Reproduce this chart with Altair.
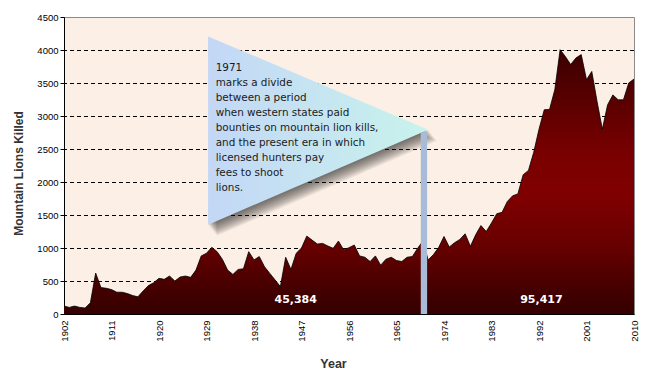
import altair as alt
import pandas as pd

# ---------------- data ----------------
YEARS = list(range(1902, 2011))
KILLS = [
    120, 100, 120, 100, 90, 170, 620, 400, 390,                 # 1902-1910
    370, 330, 330, 310, 280, 260, 350, 430, 475, 540,           # 1911-1920
    525, 575, 500, 560, 575, 555, 665, 880, 920, 1010,          # 1921-1930
    945, 830, 665, 600, 675, 685, 945, 820, 870, 715,           # 1931-1940
    615, 515, 415, 860, 675, 920, 1000, 1180, 1120, 1060,       # 1941-1950
    1070, 1030, 995, 1105, 970, 1005, 1045, 880, 860, 795,      # 1951-1960
    880, 740, 830, 860, 810, 795, 860, 870, 995, 1105,          # 1961-1970
    820, 900, 1010, 1175, 1015, 1080, 1130, 1215, 1025, 1200,   # 1971-1980
    1340, 1250, 1380, 1520, 1540, 1705, 1790, 1820, 2110, 2175, # 1981-1990
    2450, 2800, 3095, 3100, 3400, 4005, 3900, 3780, 3880, 3930, # 1991-2000
    3550, 3675, 3220, 2800, 3170, 3320, 3245, 3245, 3500, 3560, # 2001-2010
]
TICK_YEARS = list(range(1902, 2011, 9))
Y_TICKS = list(range(0, 4501, 500))
GRID_VALUES = list(range(500, 4001, 500))

NOTE_LINES = [
    "1971",
    "marks a divide",
    "between a period",
    "when western states paid",
    "bounties on mountain lion kills,",
    "and the present era in which",
    "licensed hunters pay",
    "fees to shoot",
    "lions.",
]
NOTE_X = [1930.74]
NOTE_Y = [3797]

TRI_X = [1929.3, 1971.0]
TRI_TOP = [4206, 2792]
TRI_BOTTOM = [1353, 2792]

BAR_X = [1969.6]
BAR_X2 = [1970.8]
BAR_TOP = [2753]

TOTAL_LABELS = ["45,384", "95,417"]
TOTAL_X = [1945.9, 1992.45]
TOTAL_Y = [217, 217]

# ---------------- frames ----------------
W, H = 570, 297
YR_PER_PX = (2010 - 1902) / W
VAL_PER_PX = 4500 / H

df = pd.DataFrame({"year": YEARS, "kills": KILLS})
grid_df = pd.DataFrame({"kills": GRID_VALUES})
tri_df = pd.DataFrame({"year": TRI_X, "kills": TRI_TOP, "bot": TRI_BOTTOM})
bar_df = pd.DataFrame({"year": BAR_X, "x2": BAR_X2, "kills": [0], "y2": BAR_TOP})
tot_df = pd.DataFrame({"label": TOTAL_LABELS, "year": TOTAL_X, "kills": TOTAL_Y})
note_df = pd.DataFrame({"year": NOTE_X, "kills": NOTE_Y, "t": ["\n".join(NOTE_LINES)]})

x_scale = alt.Scale(domain=[1902, 2010], nice=False, zero=False)
y_scale = alt.Scale(domain=[0, 4500], nice=False)

x_axis = alt.Axis(
    values=TICK_YEARS, format="d", title="Year", labelAngle=270,
    labelFlush=False, labelOverlap=False, grid=False, ticks=False,
    domainColor="black", labelPadding=6,
    labelFont="Liberation Sans", labelFontSize=9.5, labelColor="black",
    titleFont="Liberation Sans", titleFontSize=12.5, titleFontWeight="bold",
    titleColor="#333333", titleX=269, titleY=43, titleBaseline="top",
)
y_axis = alt.Axis(
    values=Y_TICKS, format="d", title="Mountain Lions Killed", grid=False,
    domainColor="black", tickColor="black", tickSize=4, labelPadding=2,
    labelFont="Liberation Sans", labelFontSize=9.5, labelColor="black",
    titleFont="Liberation Sans", titleFontSize=12, titleFontWeight="bold",
    titleColor="#333333", titleX=-46, titleY=156, titleBaseline="middle",
)

X = alt.X("year:Q", scale=x_scale, axis=x_axis)
Y = alt.Y("kills:Q", scale=y_scale, axis=y_axis)

area = alt.Chart(df).mark_area(
    color=alt.Gradient(
        gradient="linear", x1=0, x2=0, y1=0, y2=1,
        stops=[
            alt.GradientStop(offset=0, color="#3a0000"),
            alt.GradientStop(offset=0.22, color="#5e0000"),
            alt.GradientStop(offset=0.4, color="#7a0000"),
            alt.GradientStop(offset=0.55, color="#800000"),
            alt.GradientStop(offset=0.75, color="#660000"),
            alt.GradientStop(offset=0.92, color="#420000"),
            alt.GradientStop(offset=1, color="#350000"),
        ],
    ),
    line=alt.OverlayMarkDef(color="black", strokeWidth=0.8),
    opacity=1,
).encode(x=X, y=Y)

grid = alt.Chart(grid_df).mark_rule(
    color="black", strokeDash=[4, 3], strokeWidth=1, yOffset=0.5
).encode(y=Y)

# soft drop shadow for the call-out: many faint copies stepped down-right
shadows = []
for step in range(1, 12):
    dx, dy = 0.8 * step, 1.0 * step
    sdf = tri_df.assign(
        year=tri_df["year"] + dx * YR_PER_PX,
        kills=tri_df["kills"] - dy * VAL_PER_PX,
        bot=tri_df["bot"] - dy * VAL_PER_PX,
    )
    shadows.append(
        alt.Chart(sdf).mark_area(color="#202020", opacity=0.075).encode(
            x=X, y=Y, y2="bot:Q",
        )
    )

tri = alt.Chart(tri_df).mark_area(
    color=alt.Gradient(
        gradient="linear", x1=0, x2=1, y1=0, y2=0,
        stops=[
            alt.GradientStop(offset=0, color="#C3D7F6"),
            alt.GradientStop(offset=1, color="#C8F3EC"),
        ],
    ),
    opacity=1,
).encode(x=X, y=Y, y2="bot:Q")

bar = alt.Chart(bar_df).mark_rect(color="#A8BCD8").encode(
    x=X, x2="x2:Q", y=Y, y2="y2:Q",
)

totals = alt.Chart(tot_df).mark_text(
    font="DejaVu Sans", fontWeight="bold", fontSize=11, color="white",
    align="center", baseline="middle",
).encode(x=X, y=Y, text="label:N")

note = alt.Chart(note_df).mark_text(
    font="DejaVu Sans", fontSize=10.4, color="#1a1a1a", align="left",
    baseline="top", lineBreak="\n", lineHeight=14.9,
).encode(x=X, y=Y, text="t:N")

chart = alt.layer(grid, area, *shadows, tri, bar, totals, note).properties(
    width=W, height=H,
    autosize=alt.AutoSizeParams(type="none"),
    padding={"left": 56, "top": 9, "right": 8, "bottom": 58},
    background="white",
).configure_view(fill="#FCEFE5", stroke="#8a8a8a", strokeWidth=1)

chart.save("out.html", embed_options={"renderer": "svg", "actions": False})
